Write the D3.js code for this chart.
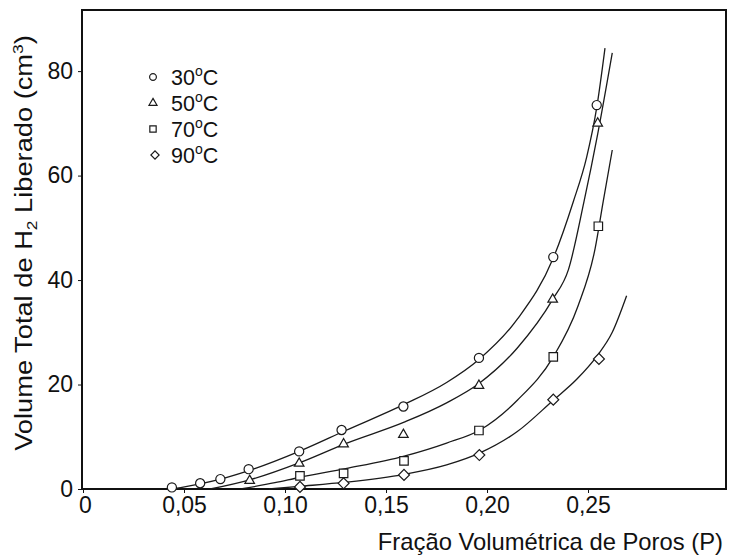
<!DOCTYPE html>
<html lang="en">
<head>
  <meta charset="utf-8">
  <title>Volume de H2 vs Fração Volumétrica de Poros</title>
  <script src="https://d3js.org/d3.v7.min.js"></script>
  <style>
    body { margin: 0; background: #fff; }
    svg { font-family: "Liberation Sans", Arial, sans-serif; }
    .frame { fill: none; stroke: #111; stroke-width: 2; }
    .fit { fill: none; stroke: #1a1a1a; stroke-width: 1.3; }
    .mark { fill: #fff; stroke: #1a1a1a; stroke-width: 1.2; }
    .tick-label { font-size: 23px; fill: #111; }
  </style>
</head>
<body>
<script>
  // measured points, [P, volume]
  const series = ["30", "50", "70", "90"];
  const pts30 = [[0.044, 0.3], [0.058, 1.1], [0.068, 1.9], [0.082, 3.8], [0.107, 7.2], [0.128, 11.3], [0.1586, 15.8], [0.196, 25.1], [0.2328, 44.4], [0.2543, 73.5]];
  const pts50 = [[0.0825, 1.6], [0.107, 4.9], [0.129, 8.6], [0.1586, 10.4], [0.196, 19.8], [0.2325, 36.3], [0.2548, 70]];
  const pts70 = [[0.1074, 2.5], [0.129, 3.0], [0.1589, 5.4], [0.196, 11.2], [0.2328, 25.3], [0.2551, 50.3]];
  const pts90 = [[0.1074, 0.4], [0.129, 1.1], [0.1589, 2.7], [0.1962, 6.5], [0.2328, 17.1], [0.2554, 24.9]];

  // fitted curves
  const fit30 = [[0.044, 0], [0.058, 1.0], [0.07, 2.1], [0.085, 3.9], [0.107, 7.2], [0.13, 11.2], [0.159, 16.2], [0.18, 20.4], [0.196, 24.8], [0.215, 32.5], [0.2328, 44.2], [0.2427, 55], [0.2493, 63.5], [0.2543, 73], [0.2584, 84.4]];
  const fit50 = [[0.063, 0], [0.083, 1.8], [0.107, 5.0], [0.13, 8.7], [0.159, 12.8], [0.18, 16.5], [0.196, 20.2], [0.215, 27], [0.2325, 36.3], [0.2403, 42], [0.248, 55], [0.2548, 68], [0.262, 83.5]];
  const fit70 = [[0.078, 0], [0.095, 1.2], [0.107, 2.2], [0.13, 3.9], [0.159, 6.3], [0.18, 8.8], [0.1965, 11.3], [0.215, 17], [0.2328, 25.3], [0.245, 35], [0.2535, 46], [0.2575, 55], [0.262, 64.9]];
  const fit90 = [[0.092, 0], [0.107, 0.5], [0.13, 1.3], [0.159, 2.8], [0.18, 4.6], [0.1965, 6.9], [0.215, 11], [0.2328, 17], [0.2444, 21], [0.2543, 25.4], [0.262, 30], [0.2691, 37]];

  const xTicks = [0, 0.05, 0.10, 0.15, 0.20, 0.25];
  const xTickLabels = ["0", "0,05", "0,10", "0,15", "0,20", "0,25"];
  const yTicks = [0, 20, 40, 60, 80];

  const width = 730, height = 559;
  const svg = d3.select("body").append("svg")
    .attr("width", width)
    .attr("height", height);

  const x = d3.scaleLinear().domain([0, 0.3183]).range([83, 726]);
  const y = d3.scaleLinear().domain([0, 91.7]).range([489, 10]);

  // frame
  svg.append("rect").attr("class", "frame")
    .attr("x", x(0) - 1).attr("y", y(91.7))
    .attr("width", x(0.3183) - x(0) + 1).attr("height", y(0) - y(91.7));

  // x axis
  const xAxis = svg.append("g")
    .attr("transform", `translate(0,${y(0)})`)
    .call(d3.axisBottom(x).tickValues(xTicks).tickSize(4).tickPadding(4)
      .tickFormat((d, i) => xTickLabels[i]));
  xAxis.select(".domain").remove();
  xAxis.selectAll("text").attr("class", "tick-label").attr("font-size", null).attr("font-family", null)
    .attr("dx", (d, i) => i === 0 ? 2 : 0);
  xAxis.selectAll("line").attr("stroke", "#111");

  // y axis
  const yAxis = svg.append("g")
    .attr("transform", `translate(${x(0) - 1},0)`)
    .call(d3.axisLeft(y).tickValues(yTicks).tickSize(4).tickPadding(5));
  yAxis.select(".domain").remove();
  yAxis.selectAll("text").attr("class", "tick-label").attr("font-size", null).attr("font-family", null);
  yAxis.selectAll("line").attr("stroke", "#111");

  // axis titles
  svg.append("text")
    .attr("x", 723).attr("y", 550)
    .attr("text-anchor", "end")
    .attr("font-size", 23.8)
    .attr("fill", "#111")
    .text("Fração Volumétrica de Poros (P)");

  const yt = svg.append("text")
    .attr("transform", "translate(32,243) rotate(-90) scale(1.16,1)")
    .attr("text-anchor", "middle")
    .attr("font-size", 23.5)
    .attr("fill", "#111");
  yt.append("tspan").text("Volume Total de H");
  yt.append("tspan").attr("font-size", 15).attr("dy", 5).text("2");
  yt.append("tspan").attr("dy", -5).text(" Liberado (cm");
  yt.append("tspan").attr("font-size", 15).attr("dy", -9).text("3");
  yt.append("tspan").attr("dy", 9).text(")");

  // fitted curves
  const line = d3.line()
    .x(d => x(d[0]))
    .y(d => y(d[1]))
    .curve(d3.curveMonotoneX);

  [fit30, fit50, fit70, fit90].forEach(f => {
    svg.append("path").attr("class", "fit").attr("d", line(f));
  });

  // markers (diamond = square turned 45 degrees)
  const shapes = [d3.symbolCircle, d3.symbolTriangle, d3.symbolSquare, d3.symbolSquare];
  const turn = [0, 0, 0, 45];
  const sizes = [66, 40, 72, 60];
  const allPts = [pts30, pts50, pts70, pts90];

  allPts.forEach((pts, i) => {
    svg.append("g").selectAll("path")
      .data(pts)
      .enter().append("path")
      .attr("class", "mark")
      .attr("transform", d => `translate(${x(d[0])},${y(d[1])}) rotate(${turn[i]})`)
      .attr("d", d3.symbol().type(shapes[i]).size(sizes[i]));
  });

  // legend
  const legend = svg.append("g").attr("transform", "translate(153,77)");
  const legSizes = [36, 28, 40, 34];
  series.forEach((s, i) => {
    const row = legend.append("g").attr("transform", `translate(0,${i * 26})`);
    row.append("path")
      .attr("class", "mark")
      .attr("transform", `translate(${i === 3 ? 2 : 0},0) rotate(${turn[i]})`)
      .attr("d", d3.symbol().type(shapes[i]).size(legSizes[i]));
    const t = row.append("text")
      .attr("x", 18).attr("y", 8)
      .attr("font-size", 21.5)
      .attr("fill", "#111");
    t.append("tspan").text(s);
    t.append("tspan").attr("font-size", 14).attr("dy", -9).text("o");
    t.append("tspan").attr("dy", 9).text("C");
  });
</script>
</body>
</html>
